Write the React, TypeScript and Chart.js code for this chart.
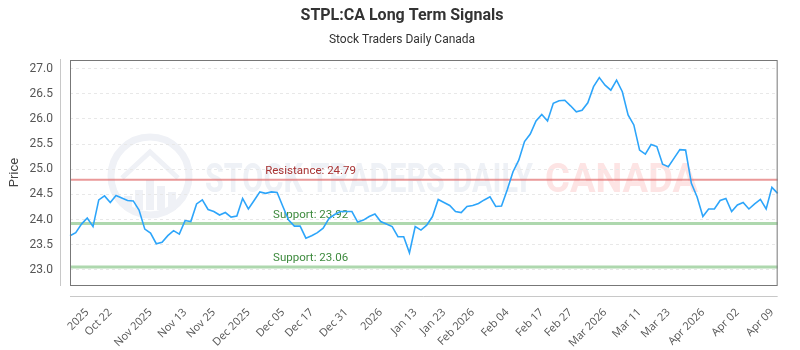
import React, { useEffect, useRef } from 'react';
import { Chart, registerables } from 'chart.js';

Chart.register(...registerables);

const chartTitle = 'STPL:CA Long Term Signals';
const chartSubtitle = 'Stock Traders Daily Canada';
const yAxisTitle = 'Price';

const prices = [
  23.68, 23.74, 23.91, 24.03, 23.86, 24.39, 24.47, 24.34, 24.48, 24.43,
  24.38, 24.37, 24.19, 23.81, 23.73, 23.52, 23.55, 23.68, 23.78, 23.71,
  23.98, 23.96, 24.31, 24.39, 24.20, 24.16, 24.09, 24.14, 24.05, 24.07,
  24.42, 24.21, 24.38, 24.55, 24.52, 24.55, 24.54, 24.26, 23.99, 23.87,
  23.87, 23.63, 23.68, 23.74, 23.83, 24.02, 24.10, 24.16, 24.16, 24.16,
  23.95, 23.99, 24.06, 24.11, 23.96, 23.91, 23.86, 23.66, 23.66, 23.34,
  23.86, 23.79, 23.89, 24.06, 24.40, 24.34, 24.28, 24.16, 24.14, 24.26,
  24.28, 24.32, 24.39, 24.45, 24.26, 24.27, 24.59, 24.95, 25.18, 25.55,
  25.70, 25.96, 26.09, 25.96, 26.31, 26.36, 26.37, 26.26, 26.14, 26.17,
  26.32, 26.64, 26.82, 26.67, 26.57, 26.77, 26.54, 26.08, 25.88, 25.38,
  25.30, 25.49, 25.45, 25.10, 25.05, 25.22, 25.39, 25.38, 24.72, 24.45,
  24.06, 24.21, 24.21, 24.38, 24.42, 24.16, 24.29, 24.34, 24.21, 24.31,
  24.40, 24.21, 24.64, 24.52,
];

const tickLabels = [
  '2025', 'Oct 22', 'Nov 2025', 'Nov 13', 'Nov 25', 'Dec 2025', 'Dec 05',
  'Dec 17', 'Dec 31', '2026', 'Jan 13', 'Jan 23', 'Feb 2026', 'Feb 04',
  'Feb 17', 'Feb 27', 'Mar 2026', 'Mar 11', 'Mar 23', 'Apr 2026', 'Apr 02',
  'Apr 09',
];
const tickIndices = [
  3, 7, 14, 20, 25, 31, 37, 42, 48, 54, 60, 65, 70, 76, 82, 87, 93, 99, 104,
  110, 116, 122,
];

const resistanceLevels = [24.79];
const supportLevels = [23.92, 23.06];

const yMin = 22.7;
const yMax = 27.17;
const yStep = 0.5;

const labels = prices.map((_, i) => {
  const k = tickIndices.indexOf(i);
  return k >= 0 ? tickLabels[k] : '';
});

const FONT = 'Roboto, "Noto Sans", sans-serif';

const decorPlugin = {
  id: 'decor',
  beforeDraw(chart: any) {
    const { ctx, chartArea } = chart;
    const { left, right, top, bottom } = chartArea;
    ctx.save();
    // titles
    ctx.fillStyle = '#333';
    ctx.textAlign = 'center';
    ctx.textBaseline = 'middle';
    ctx.font = `bold 16px ${FONT}`;
    ctx.fillText(chartTitle, 402, 16);
    ctx.font = `12px ${FONT}`;
    ctx.fillText(chartSubtitle, 402, 40);

    // watermark logo
    ctx.strokeStyle = '#eff1f6';
    ctx.fillStyle = '#eff1f6';
    ctx.lineWidth = 7;
    ctx.beginPath();
    ctx.arc(150, 176, 39, 0, Math.PI * 2);
    ctx.stroke();
    const bars = [[124, 196, 8, 14], [135, 190, 8, 20], [146, 180, 8, 30], [157, 186, 8, 24], [168, 192, 8, 18]];
    bars.forEach(([x, y, w, h]) => ctx.fillRect(x, y, w, h));
    ctx.lineWidth = 5;
    ctx.beginPath();
    ctx.moveTo(122, 178);
    ctx.lineTo(150, 152);
    ctx.lineTo(178, 178);
    ctx.stroke();

    // watermark text
    ctx.textAlign = 'left';
    ctx.textBaseline = 'alphabetic';
    ctx.font = `bold 40px ${FONT}`;
    const t1 = 'STOCK TRADERS DAILY';
    const w1 = ctx.measureText(t1).width;
    ctx.save();
    ctx.translate(205, 192);
    ctx.scale(328 / w1, 1);
    ctx.fillStyle = '#eef1f6';
    ctx.fillText(t1, 0, 0);
    ctx.restore();
    const t2 = 'CANADA';
    const w2 = ctx.measureText(t2).width;
    ctx.save();
    ctx.translate(545, 192);
    ctx.scale(153 / w2, 1);
    ctx.fillStyle = '#fde4e4';
    ctx.fillText(t2, 0, 0);
    ctx.restore();

    // offset axis lines
    ctx.strokeStyle = '#c8c8c8';
    ctx.lineWidth = 1;
    ctx.beginPath();
    ctx.moveTo(left - 9.5, top - 1);
    ctx.lineTo(left - 9.5, bottom + 1);
    ctx.moveTo(left, bottom + 11.5);
    ctx.lineTo(right, bottom + 11.5);
    ctx.stroke();
    ctx.restore();
  },
  beforeDatasetsDraw(chart: any) {
    const { ctx, chartArea, scales } = chart;
    const { left, right, width } = chartArea;
    const y = scales.y;
    ctx.save();
    const labelX = left + width * 0.34;
    const drawLevel = (v: number, color: string, lw: number, text: string, textColor: string) => {
      const py = y.getPixelForValue(v);
      ctx.strokeStyle = color;
      ctx.lineWidth = lw;
      ctx.beginPath();
      ctx.moveTo(left, py);
      ctx.lineTo(right, py);
      ctx.stroke();
      ctx.font = `11.5px ${FONT}`;
      ctx.textAlign = 'center';
      ctx.textBaseline = 'middle';
      ctx.fillStyle = textColor;
      ctx.fillText(text, labelX, py - 8.5);
    };
    resistanceLevels.forEach((v) =>
      drawLevel(v, 'rgba(225,110,110,0.7)', 2, `Resistance: ${v.toFixed(2)}`, '#a83232')
    );
    supportLevels.forEach((v) =>
      drawLevel(v, 'rgba(130,195,130,0.65)', 3, `Support: ${v.toFixed(2)}`, '#3d8a3d')
    );
    ctx.restore();
  },
  afterDraw(chart: any) {
    const { ctx, chartArea } = chart;
    const { left, right, top, bottom } = chartArea;
    ctx.save();
    ctx.strokeStyle = '#777';
    ctx.lineWidth = 1;
    ctx.strokeRect(left + 0.5, top + 0.5, right - left - 1, bottom - top);
    ctx.restore();
  },
};

export default function App() {
  const canvasRef = useRef<HTMLCanvasElement | null>(null);

  useEffect(() => {
    if (!canvasRef.current) return;
    const chart = new Chart(canvasRef.current, {
      type: 'line',
      data: {
        labels,
        datasets: [
          {
            data: prices,
            borderColor: 'rgb(45,165,250)',
            borderWidth: 1.6,
            pointRadius: 0,
            tension: 0,
            fill: false,
          },
        ],
      },
      options: {
        animation: false,
        responsive: false,
        maintainAspectRatio: false,
        layout: { padding: { top: 60, right: 10, left: 0, bottom: 0 } },
        plugins: {
          legend: { display: false },
          tooltip: { enabled: false },
          title: { display: false },
        },
        scales: {
          x: {
            type: 'category',
            grid: { display: false },
            border: { display: false },
            ticks: {
              autoSkip: false,
              maxRotation: 45,
              minRotation: 45,
              padding: 13,
              color: '#555',
              font: { size: 11, family: '"Open Sans", sans-serif' },
            },
            afterFit: (scale: any) => {
              scale.height = 65;
            },
          },
          y: {
            min: yMin,
            max: yMax,
            grid: { color: '#e8e8e8', drawTicks: false },
            border: { display: false, dash: [3, 3] },
            ticks: {
              stepSize: yStep,
              includeBounds: false,
              padding: 17,
              color: '#555',
              font: { size: 12, family: FONT },
              callback: (v: any) => Number(v).toFixed(1),
            },
            title: {
              display: true,
              text: yAxisTitle,
              color: '#444',
              font: { size: 13, family: FONT },
              padding: { top: 7, bottom: 0 },
            },
            afterFit: (scale: any) => {
              scale.width = 70;
            },
          },
        },
      },
      plugins: [decorPlugin],
    });
    return () => chart.destroy();
  }, []);

  return (
    <div style={{ position: 'fixed', left: 0, top: 0, width: 800, height: 350, background: '#fff' }}>
      <canvas ref={canvasRef} width={800} height={350} style={{ width: 800, height: 350 }} />
    </div>
  );
}
